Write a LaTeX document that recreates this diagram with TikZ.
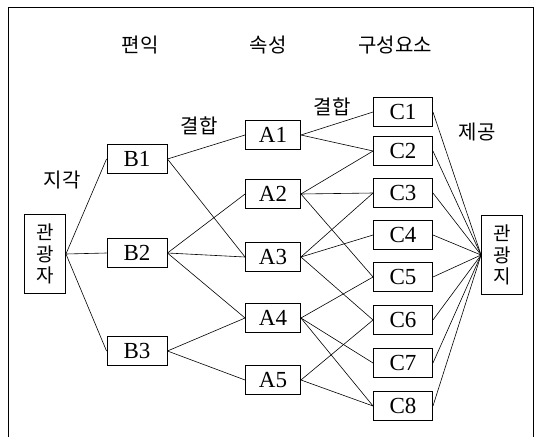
\documentclass[tikz,border=0pt]{standalone}
\usepackage{fontspec}
\setmainfont{Liberation Serif}
\newfontfamily\kr{Noto Sans CJK KR}
\begin{document}
\begin{tikzpicture}[x=1pt,y=-1pt,
  bx/.style={draw, line width=0.9pt, inner sep=0pt, minimum height=29pt, font=\fontsize{23}{23}\selectfont},
  bcol/.style={bx, minimum width=60pt},
  acol/.style={bx, minimum width=55pt},
  ccol/.style={bx, minimum width=59pt},
  vbox/.style={draw, line width=0.9pt, inner sep=0pt, minimum width=41pt, minimum height=79pt, align=center, font=\kr\fontsize{19}{21.5}\selectfont},
  lab/.style={font=\kr\fontsize{20}{20}\selectfont, inner sep=0pt},
  ln/.style={line width=0.6pt}]
\useasboundingbox (0,0) rectangle (536,437);
\draw[line width=1pt] (8,437) -- (8,7) -- (533,7) -- (533,437);
% column headings
\node[lab] (h1) at (140,45) {편익};
\node[lab] (h2) at (268,45) {속성};
\node[lab] (h3) at (395,45) {구성요소};
\node[lab] (l1) at (62,180) {지각};
\node[lab] (l2) at (199,126) {결합};
\node[lab] (l3) at (332,107) {결합};
\node[lab] (l4) at (477,132) {제공};
% nodes
\node[vbox] (T) at (45,254) {관\\광\\자};
\node[vbox] (D) at (502,255) {관\\광\\지};
\node[bcol] (B1) at (137,159) {B1};
\node[bcol] (B2) at (137,253) {B2};
\node[bcol] (B3) at (137,351) {B3};
\node[acol] (A1) at (273,135) {A1};
\node[acol] (A2) at (273,194) {A2};
\node[acol] (A3) at (273,257) {A3};
\node[acol] (A4) at (273,318) {A4};
\node[acol] (A5) at (273,380) {A5};
\node[ccol] (C1) at (403,112) {C1};
\node[ccol] (C2) at (403,151) {C2};
\node[ccol] (C3) at (403,193) {C3};
\node[ccol] (C4) at (403,235) {C4};
\node[ccol] (C5) at (403,277) {C5};
\node[ccol] (C6) at (403,320) {C6};
\node[ccol] (C7) at (403,363) {C7};
\node[ccol] (C8) at (403,406) {C8};
% edges
\foreach \b in {B1,B2,B3} \draw[ln] (T.east) -- (\b.west);
\draw[ln] (B1.east) -- (A1.west);
\draw[ln] (B1.east) -- (A3.west);
\draw[ln] (B2.east) -- (A2.west);
\draw[ln] (B2.east) -- (A3.west);
\draw[ln] (B2.east) -- (A4.west);
\draw[ln] (B3.east) -- (A4.west);
\draw[ln] (B3.east) -- (A5.west);
\draw[ln] (A1.east) -- (C1.west);
\draw[ln] (A1.east) -- (C2.west);
\draw[ln] (A2.east) -- (C2.west);
\draw[ln] (A2.east) -- (C3.west);
\draw[ln] (A2.east) -- (C5.west);
\draw[ln] (A3.east) -- (C3.west);
\draw[ln] (A3.east) -- (C4.west);
\draw[ln] (A3.east) -- (C6.west);
\draw[ln] (A4.east) -- (C5.west);
\draw[ln] (A4.east) -- (C7.west);
\draw[ln] (A4.east) -- (C8.west);
\draw[ln] (A5.east) -- (C6.west);
\draw[ln] (A5.east) -- (C8.west);
\foreach \c in {C1,C2,C3,C4,C5,C6,C7,C8} \draw[ln] (\c.east) -- (D.west);
\end{tikzpicture}
\end{document}
